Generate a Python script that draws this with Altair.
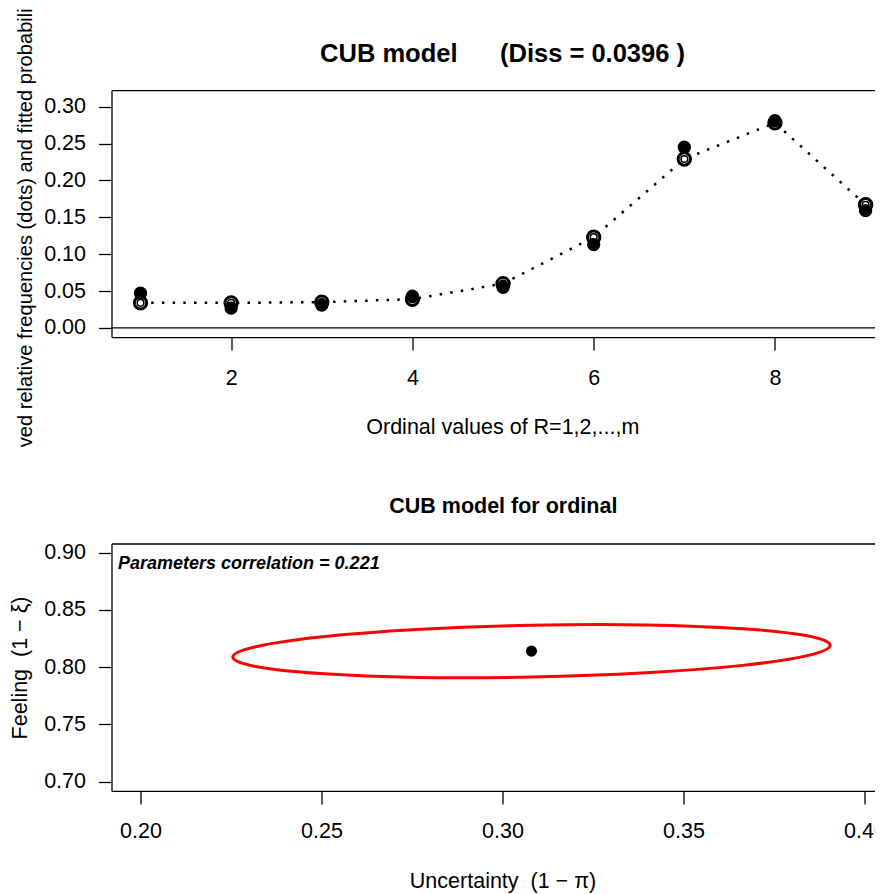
import altair as alt
import pandas as pd

# ---------------- data: top panel (observed vs fitted CUB probabilities) ----------------
ratings = [1, 2, 3, 4, 5, 6, 7, 8, 9]
observed = [0.047, 0.027, 0.031, 0.043, 0.055, 0.113, 0.245, 0.281, 0.159]
fitted = [0.034, 0.034, 0.035, 0.039, 0.060, 0.123, 0.229, 0.278, 0.167]
zero_level = [0.0]

x_ticks_top = [2, 4, 6, 8]
y_ticks_top = [0.00, 0.05, 0.10, 0.15, 0.20, 0.25, 0.30]
x_lim_top = [0.68, 9.32]
y_lim_top = [-0.0124, 0.3224]

# ---------------- data: bottom panel (parameter estimate + confidence ellipse) ----------------
uncertainty = [0.308]
feeling = [0.814]
ellipse_u = [0.3905, 0.3842, 0.3663, 0.3396, 0.3080, 0.2764, 0.2497, 0.2318,
             0.2255, 0.2318, 0.2497, 0.2764, 0.3080, 0.3396, 0.3663, 0.3842]
ellipse_f = [0.8191, 0.8274, 0.8336, 0.8369, 0.8366, 0.8329, 0.8264, 0.8179,
             0.8089, 0.8006, 0.7944, 0.7911, 0.7914, 0.7951, 0.8016, 0.8101]

x_ticks_bot = [0.20, 0.25, 0.30, 0.35, 0.40]
y_ticks_bot = [0.70, 0.75, 0.80, 0.85, 0.90]
x_lim_bot = [0.192, 0.408]
y_lim_bot = [0.692, 0.908]

NB = "\u00a0"
title_top = "CUB model" + NB * 6 + "(Diss = 0.0396 )"
title_bot = "CUB model for ordinal"
xlab_top = "Ordinal values of R=1,2,...,m"
ylab_top = "Observed relative frequencies (dots) and fitted probabilities"
xlab_bot = "Uncertainty" + NB * 2 + "(1" + NB + "\u2212" + NB + "\u03c0)"
ylab_bot = "Feeling" + NB * 2 + "(1" + NB + "\u2212" + NB + "\u03be)"
corr_label = "Parameters correlation = 0.221"

# ---------------- layout ----------------
PAD_L = 103.5          # view starts at the left edge of the plot boxes
TOTAL_W = 867          # page content width (8px margins)
W, H = TOTAL_W - PAD_L, 886
FONT = "Liberation Sans"
FS = 21.5

top_df = pd.DataFrame({"r": ratings, "observed": observed, "fitted": fitted})
zero_df = pd.DataFrame({"level": zero_level})
pt_df = pd.DataFrame({"u": uncertainty, "f": feeling})
ell_df = pd.DataFrame({"u": ellipse_u, "f": ellipse_f, "i": list(range(len(ellipse_u)))})
lab_df = pd.DataFrame({"label": [corr_label]})
mask_df = pd.DataFrame({"k": [0]})

X1 = alt.Scale(domain=x_lim_top, range=[0, 783.1], nice=False, zero=False)
Y1 = alt.Scale(domain=y_lim_top, range=[329.1, 82.1], nice=False, zero=False)
X2 = alt.Scale(domain=x_lim_bot, range=[0, 782.0], nice=False, zero=False)
Y2 = alt.Scale(domain=y_lim_bot, range=[782.9, 535.5], nice=False, zero=False)

top_x_bottom = alt.Axis(orient="bottom", offset=-(H - 329.1), values=x_ticks_top, format="d",
                        labelPadding=17, title=xlab_top, titleX=390.8, titleY=96.2,
                        titleAlign="center", titleBaseline="alphabetic", titleAngle=0, zindex=1)
# drawn below the marks so that the white mask can clip its long title like the original
top_y_left = alt.Axis(orient="left", offset=0, values=y_ticks_top, format=".2f",
                      labelPadding=13, title=ylab_top, titleFontSize=20.1, titleAngle=270,
                      titleX=-79.8, titleY=231, titleAlign="center",
                      titleBaseline="alphabetic", zindex=0)
top_x_top = alt.Axis(orient="top", offset=-82.1, ticks=False, labels=False, domain=True,
                     title=title_top, titleFontSize=25.5, titleFontWeight="bold",
                     titleX=390.5, titleY=-28.4, titleAlign="center",
                     titleBaseline="alphabetic", titleAngle=0, zindex=1)

bot_x_bottom = alt.Axis(orient="bottom", offset=-(H - 782.9), values=x_ticks_bot, format=".2f",
                        labelPadding=17, title=xlab_bot, titleX=391.0, titleY=96.1,
                        titleAlign="center", titleBaseline="alphabetic", titleAngle=0, zindex=1)
bot_y_left = alt.Axis(orient="left", offset=0, values=y_ticks_bot, format=".2f",
                      labelPadding=13, title=ylab_bot, titleAngle=270, titleX=-84.8,
                      titleY=659.5, titleAlign="center", titleBaseline="alphabetic", zindex=1)
bot_x_top = alt.Axis(orient="top", offset=-535.5, ticks=False, labels=False, domain=True,
                     title=title_bot, titleFontWeight="bold", titleX=391.3, titleY=-31.5,
                     titleAlign="center", titleBaseline="alphabetic", titleAngle=0, zindex=1)

# ---------------- top panel ----------------
zero_rule = alt.Chart(zero_df).mark_rule(color="black", strokeWidth=1.3).encode(
    x=alt.XDatum(x_lim_top[0], scale=X1, axis=None),
    x2=alt.X2Datum(x_lim_top[1]),
    y=alt.Y("level:Q", scale=Y1, axis=top_y_left),
)
fit_line = alt.Chart(top_df).mark_line(
    color="black", strokeWidth=2.5, strokeDash=[2.5, 8.2], strokeCap="butt"
).encode(
    x=alt.X("r:Q", scale=X1, axis=top_x_bottom),
    y=alt.Y("fitted:Q", scale=Y1, axis=None),
)
fit_outer = alt.Chart(top_df).mark_point(
    shape="circle", filled=True, fill="white", stroke="black", strokeWidth=3,
    size=154, opacity=1
).encode(
    x=alt.X("r:Q", scale=X1, axis=None),
    y=alt.Y("fitted:Q", scale=Y1, axis=None),
)
fit_inner = alt.Chart(top_df).mark_point(
    shape="circle", filled=False, color="black", strokeWidth=1.5, size=45, opacity=1
).encode(
    x=alt.X("r:Q", scale=X1, axis=None),
    y=alt.Y("fitted:Q", scale=Y1, axis=None),
)
obs_pts = alt.Chart(top_df).mark_circle(color="black", size=177, opacity=1).encode(
    x=alt.X("r:Q", scale=X1, axis=top_x_top),
    y=alt.Y("observed:Q", scale=Y1, axis=None),
)

# ---------------- bottom panel ----------------
ellipse = alt.Chart(ell_df).mark_line(
    color="#FF0000", strokeWidth=3, interpolate="cardinal-closed"
).encode(
    x=alt.X("u:Q", scale=X2, axis=bot_x_bottom),
    y=alt.Y("f:Q", scale=Y2, axis=bot_y_left),
    order=alt.Order("i:Q"),
)
est_pt = alt.Chart(pt_df).mark_circle(color="black", size=123, opacity=1).encode(
    x=alt.X("u:Q", scale=X2, axis=bot_x_top),
    y=alt.Y("f:Q", scale=Y2, axis=None),
)
corr_txt = alt.Chart(lab_df).mark_text(
    align="left", baseline="alphabetic", font=FONT, fontSize=18,
    fontStyle="italic", fontWeight="bold", color="black"
).encode(
    x=alt.value(6.5), y=alt.value(561), text=alt.Text("label:N")
)
# white mask: the rotated top y-label is clipped at the upper figure region in the original
mask = alt.Chart(mask_df).mark_rect(fill="white", opacity=1).encode(
    x=alt.value(-PAD_L), x2=alt.value(-61.5), y=alt.value(439), y2=alt.value(530)
)

chart = alt.layer(
    zero_rule, fit_line, fit_outer, fit_inner, obs_pts,
    ellipse, est_pt, corr_txt, mask
).resolve_scale(
    x="independent", y="independent"
).properties(
    width=W, height=H,
    padding={"left": PAD_L, "top": 0, "right": 0, "bottom": 0},
    autosize=alt.AutoSizeParams(type="none"),
).configure_view(
    stroke=None
).configure_axis(
    grid=False, domainColor="black", domainWidth=1.3, tickColor="black", tickWidth=1.3,
    tickSize=13, labelFont=FONT, labelFontSize=FS, labelColor="black",
    titleFont=FONT, titleFontSize=FS, titleColor="black", titleFontWeight="normal",
    labelFlush=False, labelOverlap=False,
)

chart.save("out.html", embed_options={"renderer": "svg", "actions": False})
